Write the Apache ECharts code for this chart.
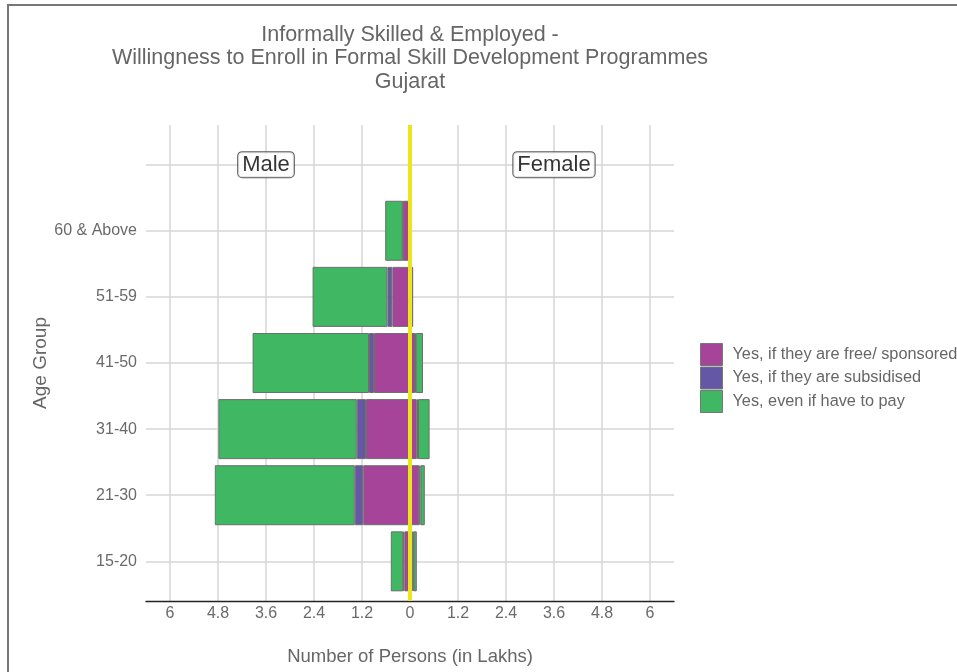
<!DOCTYPE html>
<html>
<head>
<meta charset="utf-8">
<script src="https://cdn.jsdelivr.net/npm/echarts@6/dist/echarts.min.js"></script>
<style>
html,body{margin:0;padding:0;background:#fff;}
#chart{width:957px;height:672px;}
</style>
</head>
<body>
<div id="chart"></div>
<script>
// Categories (bottom to top), last one is the empty row holding the Male/Female tags
var categories = ['15-20', '21-30', '31-40', '41-50', '51-59', '60 & Above', ''];
var seriesNames = ['Yes, if they are free/ sponsored', 'Yes, if they are subsidised', 'Yes, even if have to pay'];

// Values in lakhs
var maleFree   = [0.14, 1.17, 1.10, 0.90, 0.44, 0.17];
var maleSub    = [0.03, 0.21, 0.23, 0.125, 0.125, 0.01];
var malePay    = [0.31, 3.50, 3.46, 2.91, 1.87, 0.44];
var femaleFree = [0.07, 0.23, 0.17, 0.125, 0.08, 0.02];
var femaleSub  = [0.02, 0.03, 0.03, 0.02, 0, 0];
var femalePay  = [0.08, 0.11, 0.29, 0.18, 0, 0];

var xTicks = [-6, -4.8, -3.6, -2.4, -1.2, 0, 1.2, 2.4, 3.6, 4.8, 6];
var yGridValues = [0, 1, 2, 3, 4, 5, 6];
var sexTags = ['Male', 'Female'];

var colors = ['#a6449a', '#6458a6', '#3fb763'];
var FONT = 'Liberation Sans, Arial, sans-serif';

function neg(arr) { return arr.map(function (v) { return v === 0 ? '-' : -v; }); }
function pos(arr) { return arr.map(function (v) { return v === 0 ? '-' : v; }); }

var maleSets = [maleFree, maleSub, malePay];
var femaleSets = [femaleFree, femaleSub, femalePay];

var series = [];
maleSets.forEach(function (d, i) {
  series.push({
    type: 'bar', name: seriesNames[i], stack: 'pop', xAxisIndex: 1, yAxisIndex: 1,
    data: neg(d), barWidth: 60,
    itemStyle: { color: colors[i], borderColor: '#6e6e6e', borderWidth: 1 },
    emphasis: { disabled: true }
  });
});
femaleSets.forEach(function (d, i) {
  series.push({
    type: 'bar', name: seriesNames[i], stack: 'pop', xAxisIndex: 1, yAxisIndex: 1,
    data: pos(d), barWidth: 60,
    itemStyle: { color: colors[i], borderColor: '#6e6e6e', borderWidth: 1 },
    emphasis: { disabled: true }
  });
});
// Male / Female tags placed in data coordinates
series.push({
  type: 'scatter', xAxisIndex: 1, yAxisIndex: 1, symbolSize: 0, z: 10,
  data: [[-3.6, 6, sexTags[0]], [3.6, 6, sexTags[1]]],
  label: {
    show: true, position: 'inside', formatter: function (p) { return p.data[2]; },
    fontFamily: FONT, fontSize: 22, color: '#000', backgroundColor: '#fff',
    borderColor: '#333', borderWidth: 1, borderRadius: 4, padding: [2, 4, 1, 4]
  },
  silent: true
});
// Zero reference line
series.push({
  type: 'line', xAxisIndex: 0, yAxisIndex: 0, data: [], z: 20,
  markLine: {
    silent: true, symbol: 'none', label: { show: false },
    lineStyle: { color: '#ebe61c', width: 4, type: 'solid' },
    data: [{ xAxis: 0 }]
  }
});

var option = {
  backgroundColor: '#fff',
  animation: false,
  title: {
    text: 'Informally Skilled & Employed -\nWillingness to Enroll in Formal Skill Development Programmes\nGujarat',
    left: 410, top: 23, padding: 0,
    textAlign: 'center',
    textStyle: { fontFamily: FONT, fontSize: 21.5, fontWeight: 'normal', color: '#666', lineHeight: 23.5 }
  },
  graphic: [{
    type: 'rect', shape: { x: 8, y: 5, width: 1000, height: 700 }, silent: true,
    style: { fill: 'none', stroke: '#777', lineWidth: 2 }, z: -10
  }],
  legend: {
    data: seriesNames, orient: 'vertical', left: 700, top: 343, padding: 0,
    itemWidth: 22, itemHeight: 22, itemGap: 0.5,
    icon: 'rect',
    itemStyle: { borderColor: '#777', borderWidth: 1 },
    textStyle: { fontFamily: FONT, fontSize: 16.3, color: '#666', padding: [0, 0, 0, 5] },
    selectedMode: false
  },
  grid: [
    { left: 146, right: 283, top: 125, bottom: 71 },
    { left: 146, right: 283, top: 131.6, bottom: 77.6 }
  ],
  xAxis: [
    {
      type: 'value', gridIndex: 0, min: -6.6, max: 6.6,
      axisLine: { show: true, onZero: false, lineStyle: { color: '#222', width: 1.3 } },
      axisTick: { show: false, customValues: xTicks },
      axisLabel: {
        customValues: xTicks, fontFamily: FONT, fontSize: 16, color: '#6a6a6a', margin: 5,
        formatter: function (v) { return String(Number(Math.abs(v).toFixed(1))); }
      },
      splitLine: { show: true, lineStyle: { color: '#d6d6d6', width: 1.5 } },
      name: 'Number of Persons (in Lakhs)', nameLocation: 'middle', nameGap: 46,
      nameTextStyle: { fontFamily: FONT, fontSize: 18.5, color: '#666' }
    },
    { type: 'value', gridIndex: 1, min: -6.6, max: 6.6, show: false, splitLine: { show: false } }
  ],
  yAxis: [
    {
      type: 'value', gridIndex: 0, min: -0.6, max: 6.6,
      axisLine: { show: false }, axisLabel: { show: false },
      axisTick: { show: false, customValues: yGridValues },
      splitLine: { show: true, lineStyle: { color: '#d6d6d6', width: 1.5 } }
    },
    {
      type: 'category', gridIndex: 1, data: categories, boundaryGap: true,
      axisLine: { show: false }, axisTick: { show: false }, splitLine: { show: false },
      axisLabel: { fontFamily: FONT, fontSize: 16, color: '#6a6a6a', margin: 9 },
      name: 'Age Group', nameLocation: 'middle', nameGap: 96, nameRotate: 90,
      nameMoveOverlap: false,
      nameTextStyle: { fontFamily: FONT, fontSize: 19, color: '#666' }
    }
  ],
  series: series
};

var chart = echarts.init(document.getElementById('chart'), null, { renderer: 'canvas' });
chart.setOption(option);
</script>
</body>
</html>
